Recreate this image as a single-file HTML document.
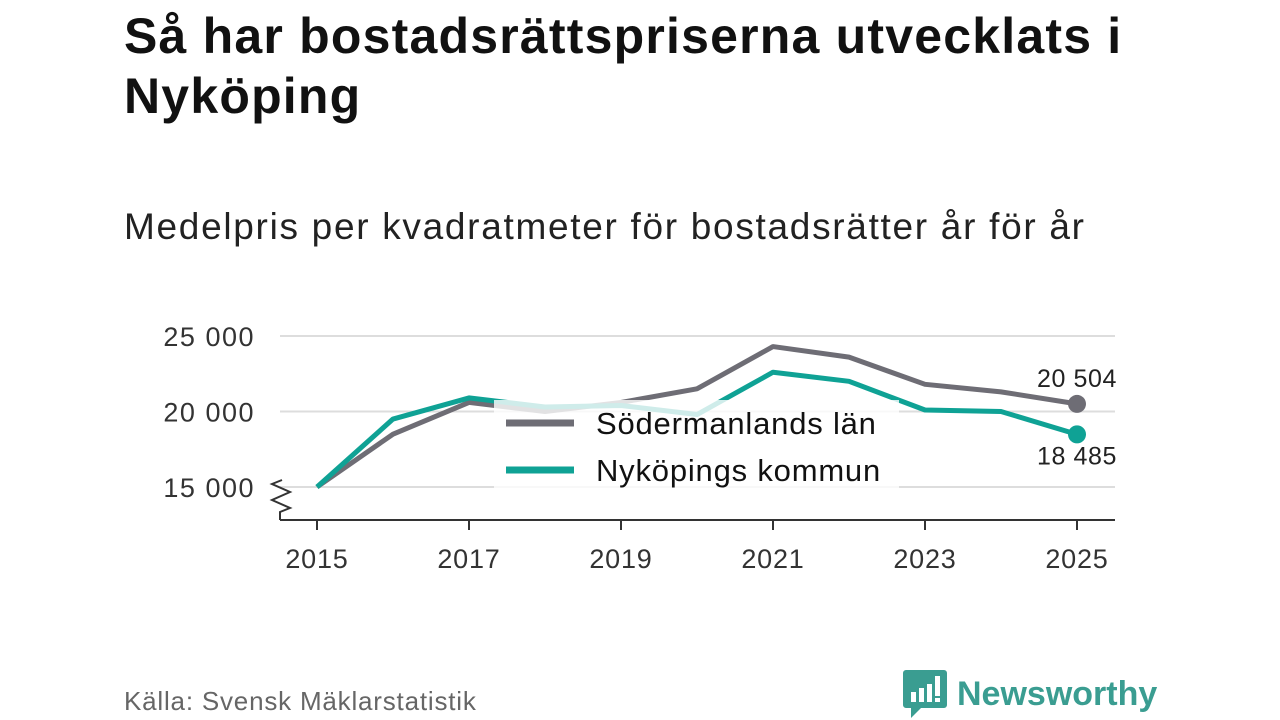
<!DOCTYPE html>
<html><head><meta charset="utf-8">
<style>
body{margin:0;width:1280px;height:720px;background:#fff;font-family:"Liberation Sans","DejaVu Sans",sans-serif;overflow:hidden;position:relative;color:#111}
h1{position:absolute;left:124px;top:6px;margin:0;font-size:50px;line-height:60px;font-weight:bold;width:1080px;color:#111;letter-spacing:1.2px}
.sub{position:absolute;left:124px;top:206px;font-size:37px;color:#222;letter-spacing:1.7px}
.src{position:absolute;left:124px;top:686px;font-size:26px;color:#666;letter-spacing:0.8px}
.logo{position:absolute;left:903px;top:670px;display:flex;align-items:center}
.logo span{font-size:34px;font-weight:bold;color:#3a9d91;margin-left:10px}
</style></head><body>
<h1>Så har bostadsrättspriserna utvecklats i Nyköping</h1>
<div class="sub">Medelpris per kvadratmeter för bostadsrätter år för år</div>
<svg id="chart" width="1280" height="720" style="position:absolute;left:0;top:0"></svg>
<div class="src">Källa: Svensk Mäklarstatistik</div>
<div class="logo">
<svg width="44" height="48"><path d="M3 0h38a3 3 0 0 1 3 3v32a3 3 0 0 1-3 3H18l-10 10v-10H3a3 3 0 0 1-3-3V3a3 3 0 0 1 3-3z" fill="#3a9d91"/><rect x="8" y="22" width="5" height="10" fill="#fff"/><rect x="16" y="18" width="5" height="14" fill="#fff"/><rect x="24" y="14" width="5" height="18" fill="#fff"/><rect x="32" y="6" width="5" height="20" fill="#fff"/><rect x="32" y="28" width="5" height="4" fill="#fff"/></svg>
<span>Newsworthy</span></div>
<script>
const years=[2015,2016,2017,2018,2019,2020,2021,2022,2023,2024,2025];
const sodermanland=[15000,18500,20600,20000,20600,21500,24300,23600,21800,21300,20504];
const nykoping=[15000,19500,20900,20300,20400,19800,22600,22000,20100,20000,18485];
const yTicks=[15000,20000,25000];
const xTicks=[2015,2017,2019,2021,2023,2025];
const NS="http://www.w3.org/2000/svg";
const svg=document.getElementById('chart');
const x=v=>317+(v-2015)*76;
const y=v=>487-(v-15000)*(151/10000);
const fmt=v=>String(v).replace(/\B(?=(\d{3})+(?!\d))/g,' ');
function el(t,a,p){const e=document.createElementNS(NS,t);for(const k in a)e.setAttribute(k,a[k]);(p||svg).appendChild(e);return e;}
yTicks.forEach(t=>{
 const g=el('line',{x1:280,x2:1115,y1:y(t),y2:y(t),stroke:'#ddd','stroke-width':2});
 
 
 const l=el('text',{x:255,y:y(t)+10,'text-anchor':'end','font-size':27,fill:'#333','letter-spacing':1.5});
 l.textContent=fmt(t);
 
 
});
el('line',{x1:280,x2:1115,y1:520,y2:520,stroke:'#333','stroke-width':2});
el('path',{d:'M282 480 L272 484 L290 492 L272 500 L290 508 L280 512 L280 520',fill:'none',stroke:'#333','stroke-width':2});
xTicks.forEach(t=>{
 el('line',{x1:x(t),x2:x(t),y1:520,y2:530,stroke:'#333','stroke-width':2});
 const l=el('text',{x:x(t),y:568,'text-anchor':'middle','font-size':27,fill:'#333','letter-spacing':0.8});
 l.textContent=t;
 
 
});
function series(vals,color,name){
 const p=el('polyline',{points:vals.map((v,i)=>x(years[i])+','+y(v)).join(' '),fill:'none',stroke:color,'stroke-width':5,'stroke-linejoin':'round'});
 
 
 const n=vals.length-1;
 const c=el('circle',{cx:x(years[n]),cy:y(vals[n]),r:9,fill:color});
 
 
}
series(sodermanland,'#6e6d75','sodermanland-line');
series(nykoping,'#0fa295','nykoping-line');
const n=years.length-1;
let t1=el('text',{x:x(years[n]),y:y(sodermanland[n])-17,'text-anchor':'middle','font-size':25,fill:'#222','letter-spacing':0.6});
t1.textContent=fmt(sodermanland[n]);


let t2=el('text',{x:x(years[n]),y:y(nykoping[n])+30,'text-anchor':'middle','font-size':25,fill:'#222','letter-spacing':0.6});
t2.textContent=fmt(nykoping[n]);


const lg=el('g',{});


el('rect',{x:494,y:400,width:405,height:90,fill:'#fff','fill-opacity':0.8},lg);
[['Södermanlands län','#6e6d75',423],['Nyköpings kommun','#0fa295',470]].forEach(([lab,col,yy])=>{
 el('line',{x1:506,x2:574,y1:yy,y2:yy,stroke:col,'stroke-width':7},lg);
 const t=el('text',{x:596,y:yy+11,'font-size':31,fill:'#111','letter-spacing':0.8},lg);
 t.textContent=lab;
 
 
});
</script>
</body></html>
